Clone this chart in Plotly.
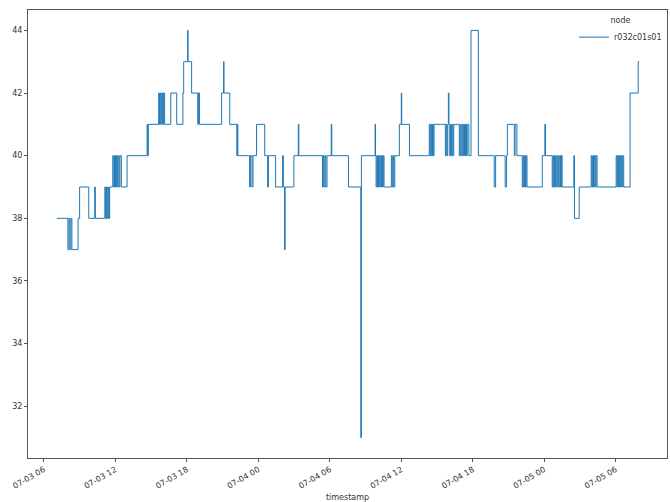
import pandas as pd
import plotly.graph_objects as go

NODE = "r032c01s01"

# Temperature readings for the node: time of each change and the new value held from then on.
jul03_times = ["07:05", "08:01", "08:06", "08:11", "08:16", "08:21", "08:52", "09:00", "09:46", "10:16",
               "10:19", "11:07", "11:11", "11:16", "11:19", "11:24", "11:27", "11:31", "11:47", "11:52",
               "11:56", "12:01", "12:05", "12:10", "12:14", "12:19", "12:23", "12:30", "12:59", "14:40",
               "14:43", "14:46", "15:38", "15:42", "15:46", "15:50", "15:54", "15:58", "16:02", "16:08",
               "16:39", "17:09", "17:40", "17:44", "18:04", "18:06", "18:24", "18:55", "18:58", "19:04",
               "20:55", "21:05", "21:07", "21:36", "22:12", "22:14", "22:17", "23:16", "23:20", "23:28",
               "23:33", "23:51"]
jul03_temps = [38, 37, 38, 37, 38, 37, 38, 39, 38, 39,
               38, 39, 38, 39, 38, 39, 38, 39, 40, 39,
               40, 39, 40, 39, 40, 39, 40, 39, 40, 41,
               40, 41, 42, 41, 42, 41, 42, 41, 42, 41,
               42, 41, 42, 43, 44, 43, 42, 41, 42, 41,
               42, 43, 42, 41, 40, 41, 40, 39, 40, 39,
               40, 41]

jul04_times = ["00:32", "00:47", "00:51", "01:27", "02:02", "02:06", "02:12", "02:15", "02:59", "03:21",
               "03:24", "05:23", "05:27", "05:31", "05:36", "05:40", "05:46", "06:07", "06:10", "07:34",
               "08:36", "08:39", "09:48", "09:50", "09:53", "09:57", "10:01", "10:05", "10:09", "10:13",
               "10:17", "10:21", "10:25", "10:29", "10:33", "11:10", "11:14", "11:18", "11:22", "11:27",
               "11:50", "12:00", "12:02", "12:41", "14:21", "14:25", "14:29", "14:33", "14:37", "14:41",
               "14:45", "15:42", "15:46", "15:50", "15:54", "15:57", "16:00", "16:04", "16:08", "16:12",
               "16:16", "16:20", "16:24", "16:52", "16:56", "17:00", "17:05", "17:09", "17:14", "17:18",
               "17:23", "17:28", "17:32", "17:40", "17:51", "18:28", "19:48", "19:55", "20:43", "20:50",
               "20:54", "21:29", "21:33", "21:42", "22:09", "22:13", "22:17", "22:21", "22:25", "22:29",
               "22:33", "23:50"]
jul04_temps = [40, 39, 40, 39, 40, 39, 37, 39, 40, 41,
               40, 39, 40, 39, 40, 39, 40, 41, 40, 39,
               31, 40, 41, 40, 39, 40, 39, 40, 39, 40,
               39, 40, 39, 40, 39, 40, 39, 40, 39, 40,
               41, 42, 41, 40, 41, 40, 41, 40, 41, 40,
               41, 40, 41, 40, 41, 42, 41, 40, 41, 40,
               41, 40, 41, 40, 41, 40, 41, 40, 41, 40,
               41, 40, 41, 40, 44, 40, 39, 40, 39, 40,
               41, 40, 41, 40, 39, 40, 39, 40, 39, 40,
               39, 40]

jul05_times = ["00:03", "00:06", "00:40", "00:44", "00:48", "00:52", "00:56", "01:00", "01:05", "01:09",
               "01:13", "01:18", "01:22", "01:26", "01:30", "02:29", "02:32", "02:56", "03:56", "04:00",
               "04:04", "04:08", "04:12", "04:17", "04:21", "04:26", "06:02", "06:06", "06:10", "06:14",
               "06:18", "06:23", "06:27", "06:31", "06:35", "06:40", "07:12", "07:53", "07:58"]
jul05_temps = [41, 40, 39, 40, 39, 40, 39, 40, 39, 40,
               39, 40, 39, 40, 39, 40, 38, 39, 40, 39,
               40, 39, 40, 39, 40, 39, 40, 39, 40, 39,
               40, 39, 40, 39, 40, 39, 42, 43, 43]

YEAR = "2021"
timestamps = pd.to_datetime(
    [f"{YEAR}-07-03 {t}" for t in jul03_times]
    + [f"{YEAR}-07-04 {t}" for t in jul04_times]
    + [f"{YEAR}-07-05 {t}" for t in jul05_times]
)
temps = jul03_temps + jul04_temps + jul05_temps

y_ticks = [32, 34, 36, 38, 40, 42, 44]

fig = go.Figure()
fig.add_trace(go.Scatter(
    x=timestamps,
    y=temps,
    mode="lines",
    line=dict(color="#1f77b4", width=1.0, shape="hv"),
    name=NODE,
))

axis_common = dict(
    showline=True,
    linecolor="#555555",
    linewidth=1,
    mirror=True,
    showgrid=False,
    zeroline=False,
    ticks="outside",
    ticklen=3,
    tickcolor="#555555",
    tickfont=dict(family="DejaVu Sans", size=8, color="#333333"),
)

fig.update_layout(
    width=670,
    height=502,
    margin=dict(l=28, r=2, t=10, b=41),
    paper_bgcolor="white",
    plot_bgcolor="white",
    font=dict(family="DejaVu Sans", size=8, color="#333333"),
    showlegend=True,
    legend=dict(
        title=dict(text="node", side="top center", font=dict(size=8)),
        x=1.0, y=0.995, xanchor="right", yanchor="top",
        bgcolor="rgba(255,255,255,0)",
        font=dict(size=8),
        itemwidth=30,
    ),
    xaxis=dict(
        **axis_common,
        range=[f"{YEAR}-07-03 04:40", f"{YEAR}-07-05 10:18"],
        tick0=f"{YEAR}-07-03 06:00",
        dtick=6 * 3600 * 1000,
        tickformat="%m-%d %H",
        tickangle=-30,
        title=dict(text="timestamp", font=dict(size=8), standoff=4),
    ),
    yaxis=dict(
        **axis_common,
        range=[30.35, 44.65],
        tickvals=y_ticks,
    ),
)

fig.write_html("out.html")
